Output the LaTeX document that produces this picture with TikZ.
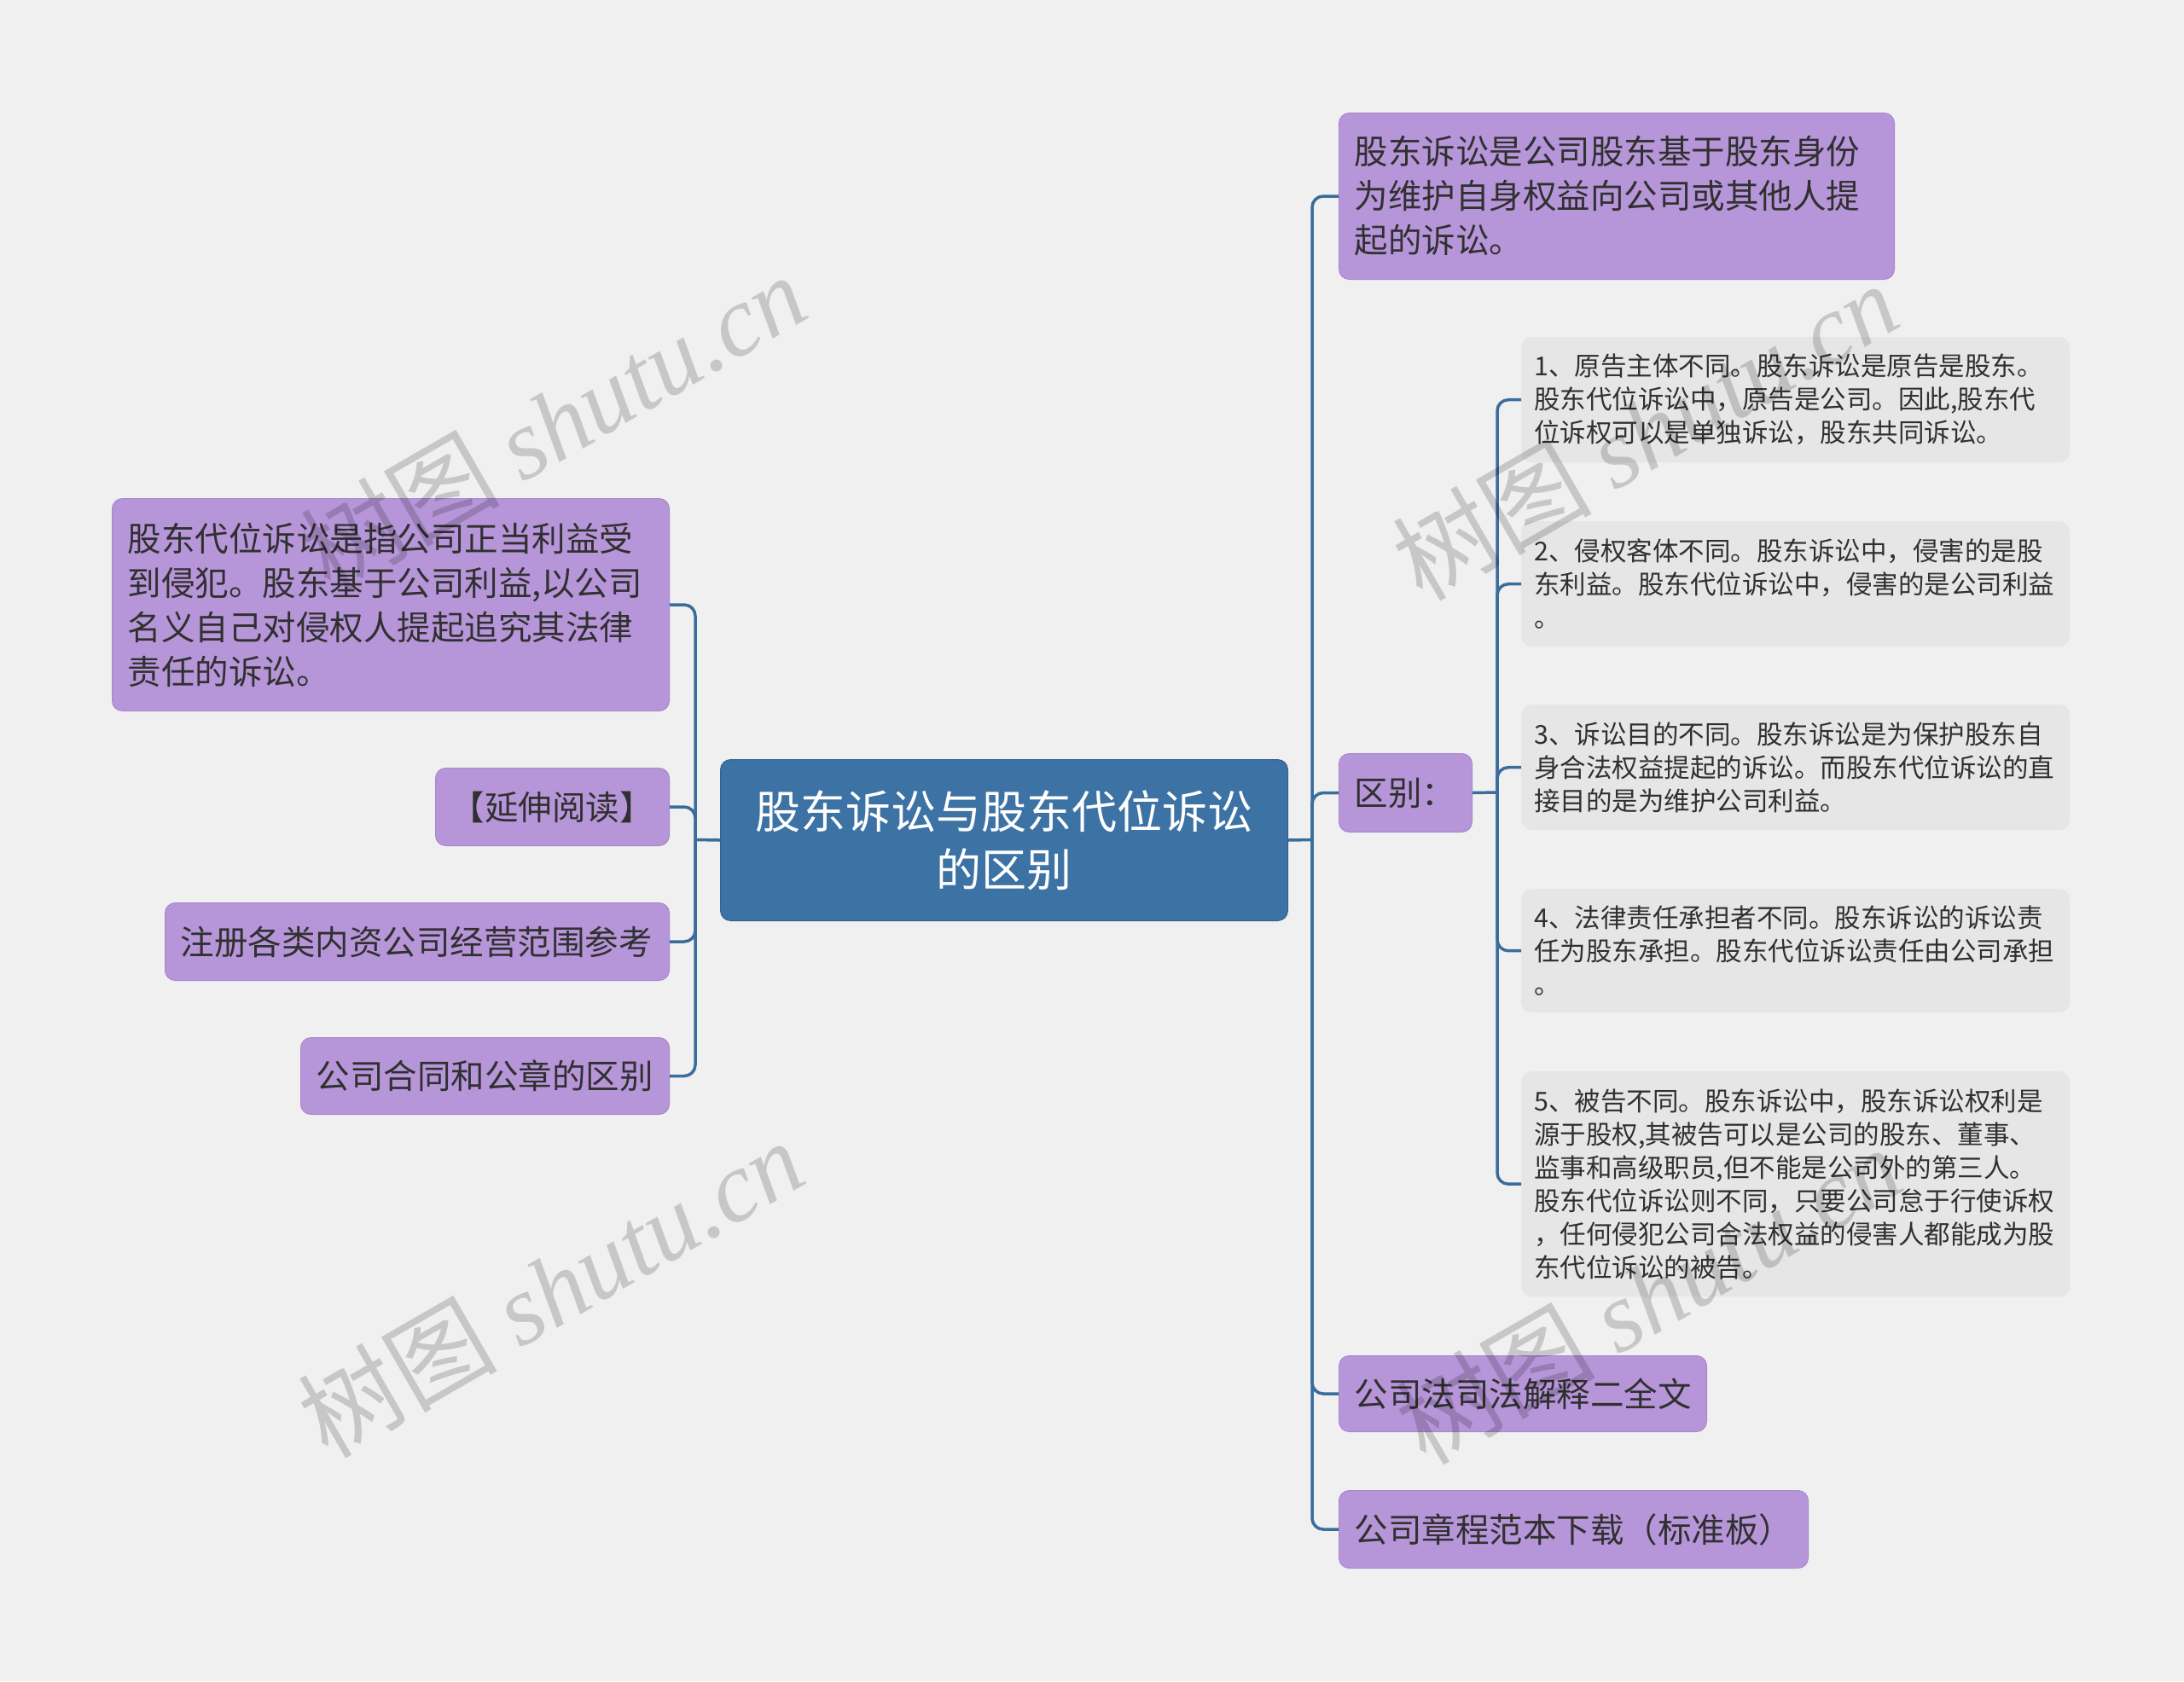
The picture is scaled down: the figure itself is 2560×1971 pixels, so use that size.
\documentclass[tikz,border=0pt]{standalone}
\usepackage{fontspec}
\newfontfamily\cjk{Noto Sans CJK SC}
\newfontfamily\wmlat{Liberation Serif}
\definecolor{bgc}{HTML}{F0F0F0}
\definecolor{rootc}{HTML}{3D72A5}
\definecolor{rootd}{HTML}{32628F}
\definecolor{ppc}{HTML}{B696D9}
\definecolor{ppd}{HTML}{A987D0}
\definecolor{grc}{HTML}{E6E6E6}
\definecolor{txc}{HTML}{303030}
\definecolor{lnc}{HTML}{3A6C9C}
\newcommand\fRoot{\cjk\fontsize{53}{68}\selectfont}
\newcommand\fPurple{\cjk\fontsize{39.5}{52}\selectfont}
\newcommand\fGrey{\cjk\fontsize{30.5}{39}\selectfont}
\begin{document}
\begin{tikzpicture}[x=1pt,y=-1pt,
  rootbox/.style={rectangle, rounded corners=12pt, fill=rootc, draw=rootd, line width=1pt,
    text=white, font=\fRoot, inner xsep=18pt, inner ysep=0pt, align=center},
  purplebox/.style={rectangle, rounded corners=12pt, fill=ppc, draw=ppd, line width=1pt,
    text=txc, font=\fPurple, inner xsep=18pt, inner ysep=0pt, align=left},
  greybox/.style={rectangle, rounded corners=12pt, fill=grc,
    text=txc, font=\fGrey, inner xsep=15pt, inner ysep=0pt, align=left},
  conn/.style={draw=lnc, line width=3.5pt, rounded corners=13pt},
  wm/.style={text=black, text opacity=0.17, rotate=30, inner sep=0pt}]
\useasboundingbox (0,0) rectangle (2560,1971);
\fill[bgc] (0,0) rectangle (2560,1971);

% root
\node[rootbox, anchor=north west, text width=629pt, minimum height=189pt] (root) at (844,890)
  {股东诉讼与股东代位诉讼\\的区别};

% right side
\node[purplebox, anchor=north west, text width=615pt, minimum height=195pt] (r1) at (1569,132)
  {股东诉讼是公司股东基于股东身份\\为维护自身权益向公司或其他人提\\起的诉讼。};
\node[purplebox, anchor=north west, text width=120pt, minimum height=92pt] (qb) at (1569,883)
  {区别：};
\node[purplebox, anchor=north west, text width=395pt, minimum height=89pt] (r3) at (1569,1589)
  {公司法司法解释二全文};
\node[purplebox, anchor=north west, text width=514pt, minimum height=91pt] (r4) at (1569,1747)
  {公司章程范本下载（标准板）};

% grey sub nodes
\node[greybox, anchor=north west, text width=613pt, minimum height=147pt] (s1) at (1783,395)
  {1、原告主体不同。股东诉讼是原告是股东。\\股东代位诉讼中，原告是公司。因此,股东代\\位诉权可以是单独诉讼，股东共同诉讼。};
\node[greybox, anchor=north west, text width=613pt, minimum height=147pt] (s2) at (1783,611)
  {2、侵权客体不同。股东诉讼中，侵害的是股\\东利益。股东代位诉讼中，侵害的是公司利益\\。};
\node[greybox, anchor=north west, text width=613pt, minimum height=147pt] (s3) at (1783,826)
  {3、诉讼目的不同。股东诉讼是为保护股东自\\身合法权益提起的诉讼。而股东代位诉讼的直\\接目的是为维护公司利益。};
\node[greybox, anchor=north west, text width=613pt, minimum height=145pt] (s4) at (1783,1042)
  {4、法律责任承担者不同。股东诉讼的诉讼责\\任为股东承担。股东代位诉讼责任由公司承担\\。};
\node[greybox, anchor=north west, text width=613pt, minimum height=264pt] (s5) at (1783,1256)
  {5、被告不同。股东诉讼中，股东诉讼权利是\\源于股权,其被告可以是公司的股东、董事、\\监事和高级职员,但不能是公司外的第三人。\\股东代位诉讼则不同，只要公司怠于行使诉权\\，任何侵犯公司合法权益的侵害人都能成为股\\东代位诉讼的被告。};

% left side
\node[purplebox, anchor=north east, text width=617pt, minimum height=249pt] (l1) at (785,584)
  {股东代位诉讼是指公司正当利益受\\到侵犯。股东基于公司利益,以公司\\名义自己对侵权人提起追究其法律\\责任的诉讼。};
\node[purplebox, anchor=north east, text width=238pt, minimum height=91pt] (l2) at (785,900)
  {【延伸阅读】};
\node[purplebox, anchor=north east, text width=555pt, minimum height=91pt] (l3) at (785,1058)
  {注册各类内资公司经营范围参考};
\node[purplebox, anchor=north east, text width=396pt, minimum height=90pt] (l4) at (785,1216)
  {公司合同和公章的区别};

% junctions
\coordinate (rj) at (1538,984.5);
\coordinate (lj) at (815,984.5);
\coordinate (sj) at (1755,929);

\draw[conn] (root.east) -- (rj);
\foreach \n in {r1,qb,r3,r4} \draw[conn] (rj) |- (\n.west);
\draw[conn] (root.west) -- (lj);
\foreach \n in {l1,l2,l3,l4} \draw[conn] (lj) |- (\n.east);
\draw[conn] (qb.east) -- (sj);
\foreach \n in {s1,s2,s3,s4,s5} \draw[conn] (sj) |- (\n.west);

% watermarks
\node[wm] (w1) at (648,495) {\cjk\fontsize{117}{117}\selectfont 树图 \wmlat\itshape shutu.cn};
\node[wm] (w2) at (1928,505) {\cjk\fontsize{117}{117}\selectfont 树图 \wmlat\itshape shutu.cn};
\node[wm] (w3) at (645,1510) {\cjk\fontsize{117}{117}\selectfont 树图 \wmlat\itshape shutu.cn};
\node[wm] (w4) at (1932,1518) {\cjk\fontsize{117}{117}\selectfont 树图 \wmlat\itshape shutu.cn};
\end{tikzpicture}
\end{document}
